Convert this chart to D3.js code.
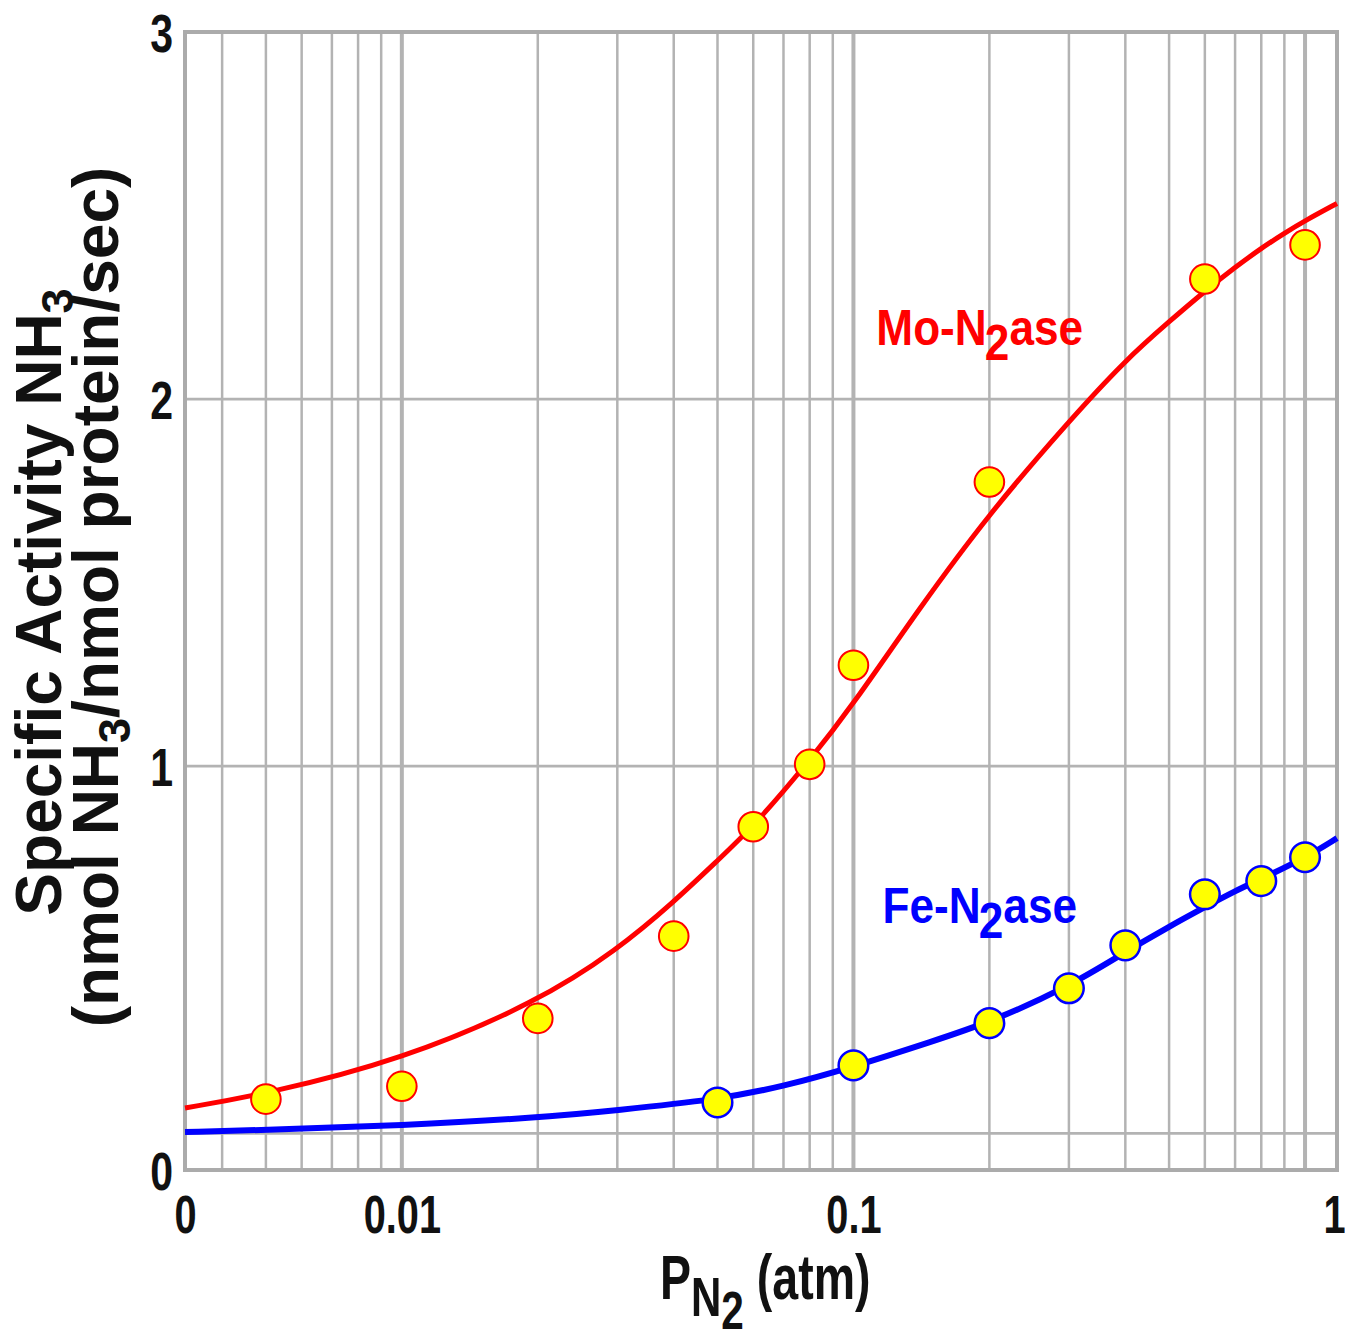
<!DOCTYPE html>
<html><head><meta charset="utf-8">
<script src="https://cdn.jsdelivr.net/npm/d3@7"></script>
<style>
body{margin:0;background:#fff;}
svg{display:block;}
text{font-family:"Liberation Sans", Arial, Helvetica, sans-serif;font-weight:bold;}
</style></head><body>
<svg id="chart" width="1345" height="1342"></svg>
<script>
// ---------- data ----------
const xDomain = [0.00331, 1.177];
const yDomain = [-0.1, 3];
const xTickValues = [0.00331, 0.01, 0.1, 1.177];
const xTickLabels = ["0", "0.01", "0.1", "1"];
const yTickValues = [-0.1, 1, 2, 3];
const yTickLabels = ["0", "1", "2", "3"];
const xMinorGrid = [0.004,0.005,0.006,0.007,0.008,0.009,0.02,0.03,0.04,0.05,0.06,0.07,0.08,0.09,0.2,0.3,0.4,0.5,0.6,0.7,0.8,0.9];
const xMajorGrid = [0.01, 0.1, 1];
const yGrid = [0, 1, 2];

// Mo-nitrogenase measured points
const moX = [0.005, 0.01, 0.02, 0.04, 0.06, 0.08, 0.1, 0.2, 0.6, 1.0];
const moY = [0.093, 0.128, 0.313, 0.537, 0.835, 1.005, 1.275, 1.774, 2.327, 2.42];
// Mo-nitrogenase fitted curve
const moCurveX = [0.00331, 0.005, 0.01, 0.02, 0.03, 0.04, 0.05, 0.06, 0.08, 0.1, 0.14, 0.2, 0.3, 0.4, 0.5, 0.6, 0.7, 0.8, 0.9, 1.0, 1.177];
const moCurveY = [0.069, 0.107, 0.200, 0.358, 0.50, 0.63, 0.743, 0.835, 1.015, 1.169, 1.431, 1.689, 1.94, 2.106, 2.211, 2.294, 2.359, 2.411, 2.452, 2.486, 2.533];

// Fe-nitrogenase measured points
const feX = [0.05, 0.1, 0.2, 0.3, 0.4, 0.6, 0.8, 1.0];
const feY = [0.084, 0.185, 0.30, 0.395, 0.512, 0.651, 0.687, 0.752];
// Fe-nitrogenase fitted curve
const feCurveX = [0.00331, 0.005, 0.01, 0.02, 0.03, 0.05, 0.07, 0.1, 0.15, 0.2, 0.3, 0.4, 0.5, 0.6, 0.7, 0.8, 1.0, 1.177];
const feCurveY = [0.0035, 0.009, 0.0215, 0.042, 0.063, 0.092, 0.1275, 0.181, 0.251, 0.302, 0.399, 0.494, 0.563, 0.616, 0.66, 0.693, 0.75, 0.804];

// ---------- drawing ----------
const svg = d3.select("#chart");
const L = 185, R = 1337, T = 32, B = 1170;
const x = d3.scaleLog().domain(xDomain).range([L, R]);
const y = d3.scaleLinear().domain(yDomain).range([B, T]);
const gridColor = "#b3b3b3";

const grid = svg.append("g");
grid.selectAll(".vminor").data(xMinorGrid).join("line")
  .attr("x1", d => x(d)).attr("x2", d => x(d)).attr("y1", T).attr("y2", B)
  .attr("stroke", gridColor).attr("stroke-width", 2.5);
grid.selectAll(".vmajor").data(xMajorGrid).join("line")
  .attr("x1", d => x(d)).attr("x2", d => x(d)).attr("y1", T).attr("y2", B)
  .attr("stroke", gridColor).attr("stroke-width", 4);
grid.selectAll(".h").data(yGrid).join("line")
  .attr("x1", L).attr("x2", R).attr("y1", d => y(d)).attr("y2", d => y(d))
  .attr("stroke", gridColor).attr("stroke-width", 2.7);
svg.append("rect").attr("x", L).attr("y", T).attr("width", R - L).attr("height", B - T)
  .attr("fill", "none").attr("stroke", "#ababab").attr("stroke-width", 4);

// axes
const xAxis = d3.axisBottom(x).tickValues(xTickValues)
  .tickFormat((d, i) => xTickLabels[i]).tickSize(0);
const gx = svg.append("g").attr("transform", `translate(0,${B})`).call(xAxis);
gx.select(".domain").remove();
gx.selectAll("text").attr("y", null).attr("dy", null)
  .attr("fill", "#111").style("font-size", "53px")
  .attr("transform", "translate(0,63) scale(0.75,1)");
// last label sits at the right edge of the picture: keep it inside
gx.selectAll("text").filter((d, i) => i === xTickValues.length - 1)
  .attr("text-anchor", "end").attr("transform", "translate(8,63) scale(0.75,1)");

const yAxis = d3.axisLeft(y).tickValues(yTickValues)
  .tickFormat((d, i) => yTickLabels[i]).tickSize(0);
const gy = svg.append("g").attr("transform", `translate(${L},0)`).call(yAxis);
gy.select(".domain").remove();
gy.selectAll("text").attr("x", null).attr("dy", null)
  .attr("fill", "#111").style("font-size", "54px").attr("text-anchor", "end")
  .attr("transform", "translate(-12,19) scale(0.76,1)");

// curves
const line = d3.line().x(d => x(d[0])).y(d => y(d[1])).curve(d3.curveBasis);
svg.append("path").datum(d3.zip(feCurveX, feCurveY)).attr("d", line)
  .attr("fill", "none").attr("stroke", "#0000ff").attr("stroke-width", 6);
svg.append("path").datum(d3.zip(moCurveX, moCurveY)).attr("d", line)
  .attr("fill", "none").attr("stroke", "#ff0000").attr("stroke-width", 5);

// points
svg.append("g").selectAll("circle").data(d3.zip(feX, feY)).join("circle")
  .attr("cx", d => x(d[0])).attr("cy", d => y(d[1])).attr("r", 14.8)
  .attr("fill", "#ffff00").attr("stroke", "#0000ff").attr("stroke-width", 2.5);
svg.append("g").selectAll("circle").data(d3.zip(moX, moY)).join("circle")
  .attr("cx", d => x(d[0])).attr("cy", d => y(d[1])).attr("r", 14.8)
  .attr("fill", "#ffff00").attr("stroke", "#ff0000").attr("stroke-width", 2);

// series labels
function seriesLabel(txt, color, xv, yv) {
  const t = svg.append("text")
    .attr("transform", `translate(${x(xv)},${y(yv)}) scale(0.92,1.04)`)
    .attr("fill", color).style("font-size", "48px");
  t.append("tspan").text(txt);
  t.append("tspan").attr("dy", 14).attr("dx", -2).text("2");
  t.append("tspan").attr("dy", -14).text("ase");
}
seriesLabel("Mo-N", "#ff0000", 0.1124, 2.147);
seriesLabel("Fe-N", "#0000ff", 0.116, 0.572);

// y title
const yt1 = svg.append("text").attr("transform", "translate(61,602) rotate(-90)")
  .attr("text-anchor", "middle").attr("fill", "#111").style("font-size", "64px");
yt1.append("tspan").text("Specific Activity NH");
yt1.append("tspan").attr("dy", 12).style("font-size", "45px").text("3");

const yt2 = svg.append("text").attr("transform", "translate(118,597) rotate(-90)")
  .attr("text-anchor", "middle").attr("fill", "#111").style("font-size", "64px");
yt2.append("tspan").text("(nmol NH");
yt2.append("tspan").attr("dy", 12).style("font-size", "45px").text("3");
yt2.append("tspan").attr("dy", -12).text("/nmol protein/sec)");

// x title
const xt = svg.append("text").attr("transform", "translate(660,1299) scale(0.75,1)")
  .attr("fill", "#111");
xt.append("tspan").style("font-size", "62px").text("P");
xt.append("tspan").attr("dy", 17).style("font-size", "56px").text("N");
xt.append("tspan").attr("dy", 13).style("font-size", "54px").text("2");
xt.append("tspan").attr("dy", -30).style("font-size", "62px").text(" (atm)");
</script>
</body></html>
